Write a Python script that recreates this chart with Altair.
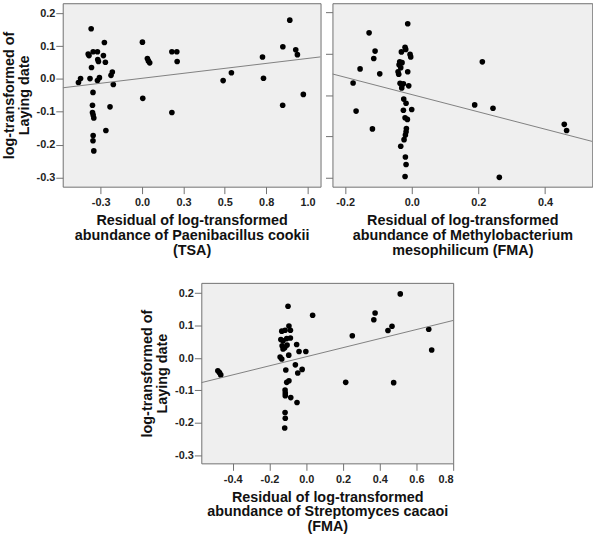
import altair as alt
import pandas as pd

# Residual abundance (x) vs. log-transformed laying date (y), three taxa
cookii_x = [-0.385, -0.372, -0.308, -0.326, -0.321, -0.296, -0.27, -0.268, -0.264, -0.228,
            -0.234, -0.222, -0.306, -0.315, -0.27, -0.258, -0.18, -0.188, -0.174, -0.297,
            -0.3, -0.3, -0.296, -0.292, -0.194, -0.219, -0.296, -0.297, -0.292, 0.002,
            0.032, 0.038, 0.046, 0.004, 0.18, 0.21, 0.212, 0.18, 0.49, 0.54,
            0.728, 0.734, 0.851, 0.893, 0.85, 0.929, 0.939, 0.975]
cookii_y = [-0.011, 0.001, 0.153, 0.076, 0.071, 0.083, 0.083, 0.059, 0.053, 0.111,
            0.071, 0.051, 0.035, 0.001, -0.005, 0.004, 0.021, 0.011, -0.017, -0.041,
            -0.08, -0.102, -0.11, -0.119, -0.085, -0.157, -0.172, -0.188, -0.219, 0.112,
            0.062, 0.055, 0.049, -0.059, 0.083, 0.083, 0.053, -0.102, -0.005, 0.019,
            0.067, 0.002, 0.098, 0.179, -0.08, 0.089, 0.074, -0.047]

methylo_x = [-0.012, -0.128, -0.110, -0.114, -0.155, -0.096, -0.176, -0.167, -0.118, -0.020,
             -0.018, -0.031, -0.005, -0.003, -0.036, -0.029, -0.038, -0.033, -0.041, -0.039,
             -0.012, -0.035, -0.025, -0.009, -0.030, -0.024, -0.017, -0.025, 0.0, -0.020,
             -0.013, -0.016, -0.017, -0.019, -0.023, -0.033, -0.019, -0.017, -0.020, 0.212,
             0.189, 0.244, 0.458, 0.465, 0.263]
methylo_y = [0.172, 0.150, 0.106, 0.088, 0.063, 0.051, 0.029, -0.039, -0.082, 0.115,
             0.110, 0.104, 0.098, 0.092, 0.080, 0.078, 0.073, 0.066, 0.056, 0.050,
             0.056, 0.028, 0.027, 0.022, 0.017, -0.010, -0.020, -0.037, -0.035, -0.055,
             -0.059, -0.081, -0.089, -0.097, -0.108, -0.124, -0.150, -0.168, -0.197, 0.080,
             -0.024, -0.032, -0.071, -0.086, -0.199]

strepto_x = [-0.481, -0.472, -0.465, -0.099, 0.035, -0.133, -0.115, -0.094, -0.086, -0.138,
             -0.126, -0.106, -0.086, -0.131, -0.117, -0.104, -0.126, -0.052, -0.039, -0.002,
             -0.095, -0.142, -0.133, -0.059, -0.022, -0.111, -0.046, -0.094, -0.106, -0.115,
             -0.114, -0.114, -0.084, -0.050, -0.115, -0.114, -0.117, 0.251, 0.215, 0.368,
             0.375, 0.445, 0.467, 0.476, 0.512, 0.667, 0.683]
strepto_y = [-0.039, -0.045, -0.052, 0.160, 0.132, 0.083, 0.086, 0.099, 0.086, 0.057,
             0.053, 0.060, 0.062, 0.038, 0.032, 0.040, 0.028, 0.042, 0.020, 0.020,
             0.009, 0.003, -0.003, -0.021, -0.035, -0.037, -0.046, -0.070, -0.075, -0.099,
             -0.108, -0.116, -0.122, -0.137, -0.168, -0.186, -0.216, 0.069, -0.075, 0.118,
             0.139, 0.085, 0.098, -0.076, 0.198, 0.089, 0.025]

# Linear fit lines (slope, intercept)
cookii_fit = (0.0604, 0.002)
methylo_fit = (-0.209, 0.001)
strepto_fit = (0.140, 0.004)

cookii_xticks = [-0.25, 0.0, 0.25, 0.5, 0.75, 1.0]
methylo_xticks = [-0.2, 0.0, 0.2, 0.4]
strepto_xticks = [-0.4, -0.2, 0.0, 0.2, 0.4, 0.6, 0.8]
date_yticks = [-0.3, -0.2, -0.1, 0.0, 0.1, 0.2]
methylo_yticks = [-0.2, -0.1, 0.0, 0.1, 0.2]

Y_TITLE = ["log-transformed of", "Laying date"]
FONT = "Liberation Sans"
HYPHEN = "replace(datum.label, '\u2212', '-')"


def panel(xs, ys, fit, xdom, ydom, xticks, yticks, width, height, xtitle, show_y=True):
    pts = pd.DataFrame({"x": xs, "y": ys})
    slope, icpt = fit
    fit_df = pd.DataFrame({"x": list(xdom), "y": [icpt + slope * v for v in xdom]})

    xscale = alt.Scale(domain=list(xdom), nice=False, zero=False)
    yscale = alt.Scale(domain=list(ydom), nice=False, zero=False)
    xaxis = alt.Axis(values=xticks, format=".1f", labelExpr=HYPHEN, title=xtitle,
                     titlePadding=6, labelPadding=3, labelOverlap=False)
    if show_y:
        yaxis = alt.Axis(values=yticks, format=".1f", labelExpr=HYPHEN, title=Y_TITLE,
                         titlePadding=5, labelPadding=1, labelOverlap=False)
    else:
        yaxis = alt.Axis(values=yticks, labels=False, title=None)

    dots = alt.Chart(pts).mark_circle(size=32, color="#000000", opacity=1).encode(
        x=alt.X("x:Q", scale=xscale, axis=xaxis),
        y=alt.Y("y:Q", scale=yscale, axis=yaxis),
    )
    line = alt.Chart(fit_df).mark_line(color="#808080", strokeWidth=1, clip=True).encode(
        x=alt.X("x:Q", scale=xscale, axis=xaxis),
        y=alt.Y("y:Q", scale=yscale, axis=yaxis),
    )
    return alt.layer(dots, line).properties(width=width, height=height)


p1 = panel(cookii_x, cookii_y, cookii_fit, (-0.48, 1.079), (-0.328, 0.2305),
           cookii_xticks, date_yticks, 260, 185,
           ["Residual of log-transformed", "abundance of Paenibacillus cookii", "(TSA)"])
p2 = panel(methylo_x, methylo_y, methylo_fit, (-0.238, 0.542), (-0.2216, 0.2216),
           methylo_xticks, methylo_yticks, 262, 185,
           ["Residual of log-transformed", "abundance of Methylobacterium",
            "mesophilicum (FMA)"], show_y=False)
p3 = panel(strepto_x, strepto_y, strepto_fit, (-0.571, 0.80), (-0.325, 0.232),
           strepto_xticks, date_yticks, 254, 182,
           ["Residual of log-transformed", "abundance of Streptomyces cacaoi", "(FMA)"])

top = alt.hconcat(p1, p2, spacing=3)
chart = alt.vconcat(top, p3, spacing=25, center=True).properties(
    padding={"left": 0, "top": 0, "right": 0, "bottom": 0},
    background="#ffffff",
).configure_view(
    fill="#efefef", stroke="#707070", strokeWidth=1
).configure_axis(
    domain=False, grid=False, labelOverlap=False,
    tickColor="#707070", tickSize=7, tickWidth=1,
    labelFont=FONT, labelFontSize=11, labelFontWeight="bold", labelColor="#222222",
    titleFont=FONT, titleFontSize=14.5, titleFontWeight="bold", titleColor="#111111",
    titleLineHeight=15,
)

chart.save("out.html", embed_options={"renderer": "svg", "actions": False})
